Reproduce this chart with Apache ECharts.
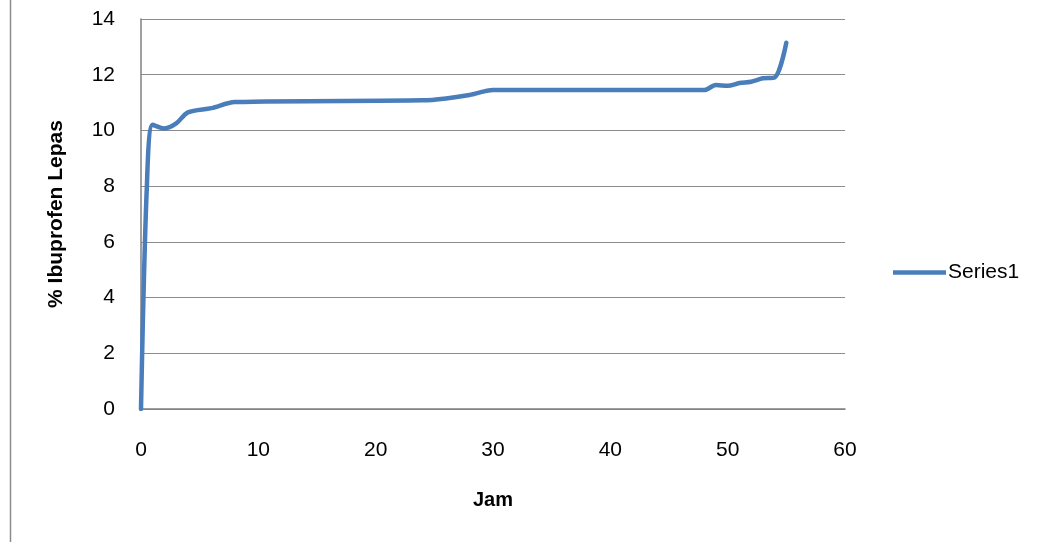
<!DOCTYPE html>
<html>
<head>
<meta charset="utf-8">
<script src="https://cdn.jsdelivr.net/npm/echarts@6/dist/echarts.min.js"></script>
<style>html,body{margin:0;padding:0;background:#fff;}#c{width:1042px;height:542px;}</style>
</head>
<body>
<div id="c"></div>
<script>
var hours = [0, 0.5, 1, 2, 3, 4, 6, 8, 24, 26, 28, 30, 48, 49, 50, 51, 52, 53, 54, 55];
var released = [0, 8.0, 10.2, 10.07, 10.25, 10.65, 10.8, 11.02, 11.08, 11.15, 11.27, 11.45, 11.45, 11.63, 11.6, 11.7, 11.75, 11.87, 11.9, 13.15];
var seriesName = 'Series1';
var xTitle = 'Jam';
var yTitle = '% Ibuprofen Lepas';

var font = 'Liberation Sans';
var chart = echarts.init(document.getElementById('c'), null, {renderer: 'canvas'});
chart.setOption({
  animation: false,
  backgroundColor: '#fff',
  grid: {left: 141, right: 197, top: 19, bottom: 133, containLabel: false},
  legend: {
    data: [seriesName], orient: 'vertical', left: 888, top: 257,
    itemWidth: 53, itemHeight: 14, itemGap: 4,
    icon: 'path://M0,5 L53,5 L53,9.5 L0,9.5 Z',
    textStyle: {fontFamily: font, fontSize: 21, color: '#000', padding: [0,0,0,-3]}
  },
  xAxis: {
    type: 'value', min: 0, max: 60, interval: 10,
    name: xTitle, nameLocation: 'middle', nameGap: 81,
    nameTextStyle: {fontFamily: font, fontSize: 20, fontWeight: 'bold', color: '#000'},
    axisLine: {show: true, onZero: false, lineStyle: {color: '#808080', width: 1.5}},
    axisTick: {show: false},
    splitLine: {show: false},
    axisLabel: {fontFamily: font, fontSize: 21, color: '#000', margin: 31}
  },
  yAxis: {
    type: 'value', min: 0, max: 14, interval: 2,
    name: yTitle, nameLocation: 'middle', nameGap: 74, nameRotate: 90,
    nameTextStyle: {fontFamily: font, fontSize: 21, fontWeight: 'bold', color: '#000'},
    axisLine: {show: true, lineStyle: {color: '#808080', width: 1.5}},
    axisTick: {show: false},
    splitLine: {show: true, lineStyle: {color: '#8c8c8c', width: 1.2}},
    axisLabel: {fontFamily: font, fontSize: 21, color: '#000', margin: 26}
  },
  series: [{
    name: seriesName, type: 'line', smooth: 0.3, showSymbol: false,
    data: hours.map(function (h, i) { return [h, released[i]]; }),
    lineStyle: {color: '#4A7EBB', width: 4.5, cap: 'round', join: 'round'},
    itemStyle: {color: '#4A7EBB'}
  }],
  graphic: [{
    type: 'line', shape: {x1: 10.5, y1: 0, x2: 10.5, y2: 542},
    style: {stroke: '#8c8c8c', lineWidth: 1.5}
  }]
});
</script>
</body>
</html>
